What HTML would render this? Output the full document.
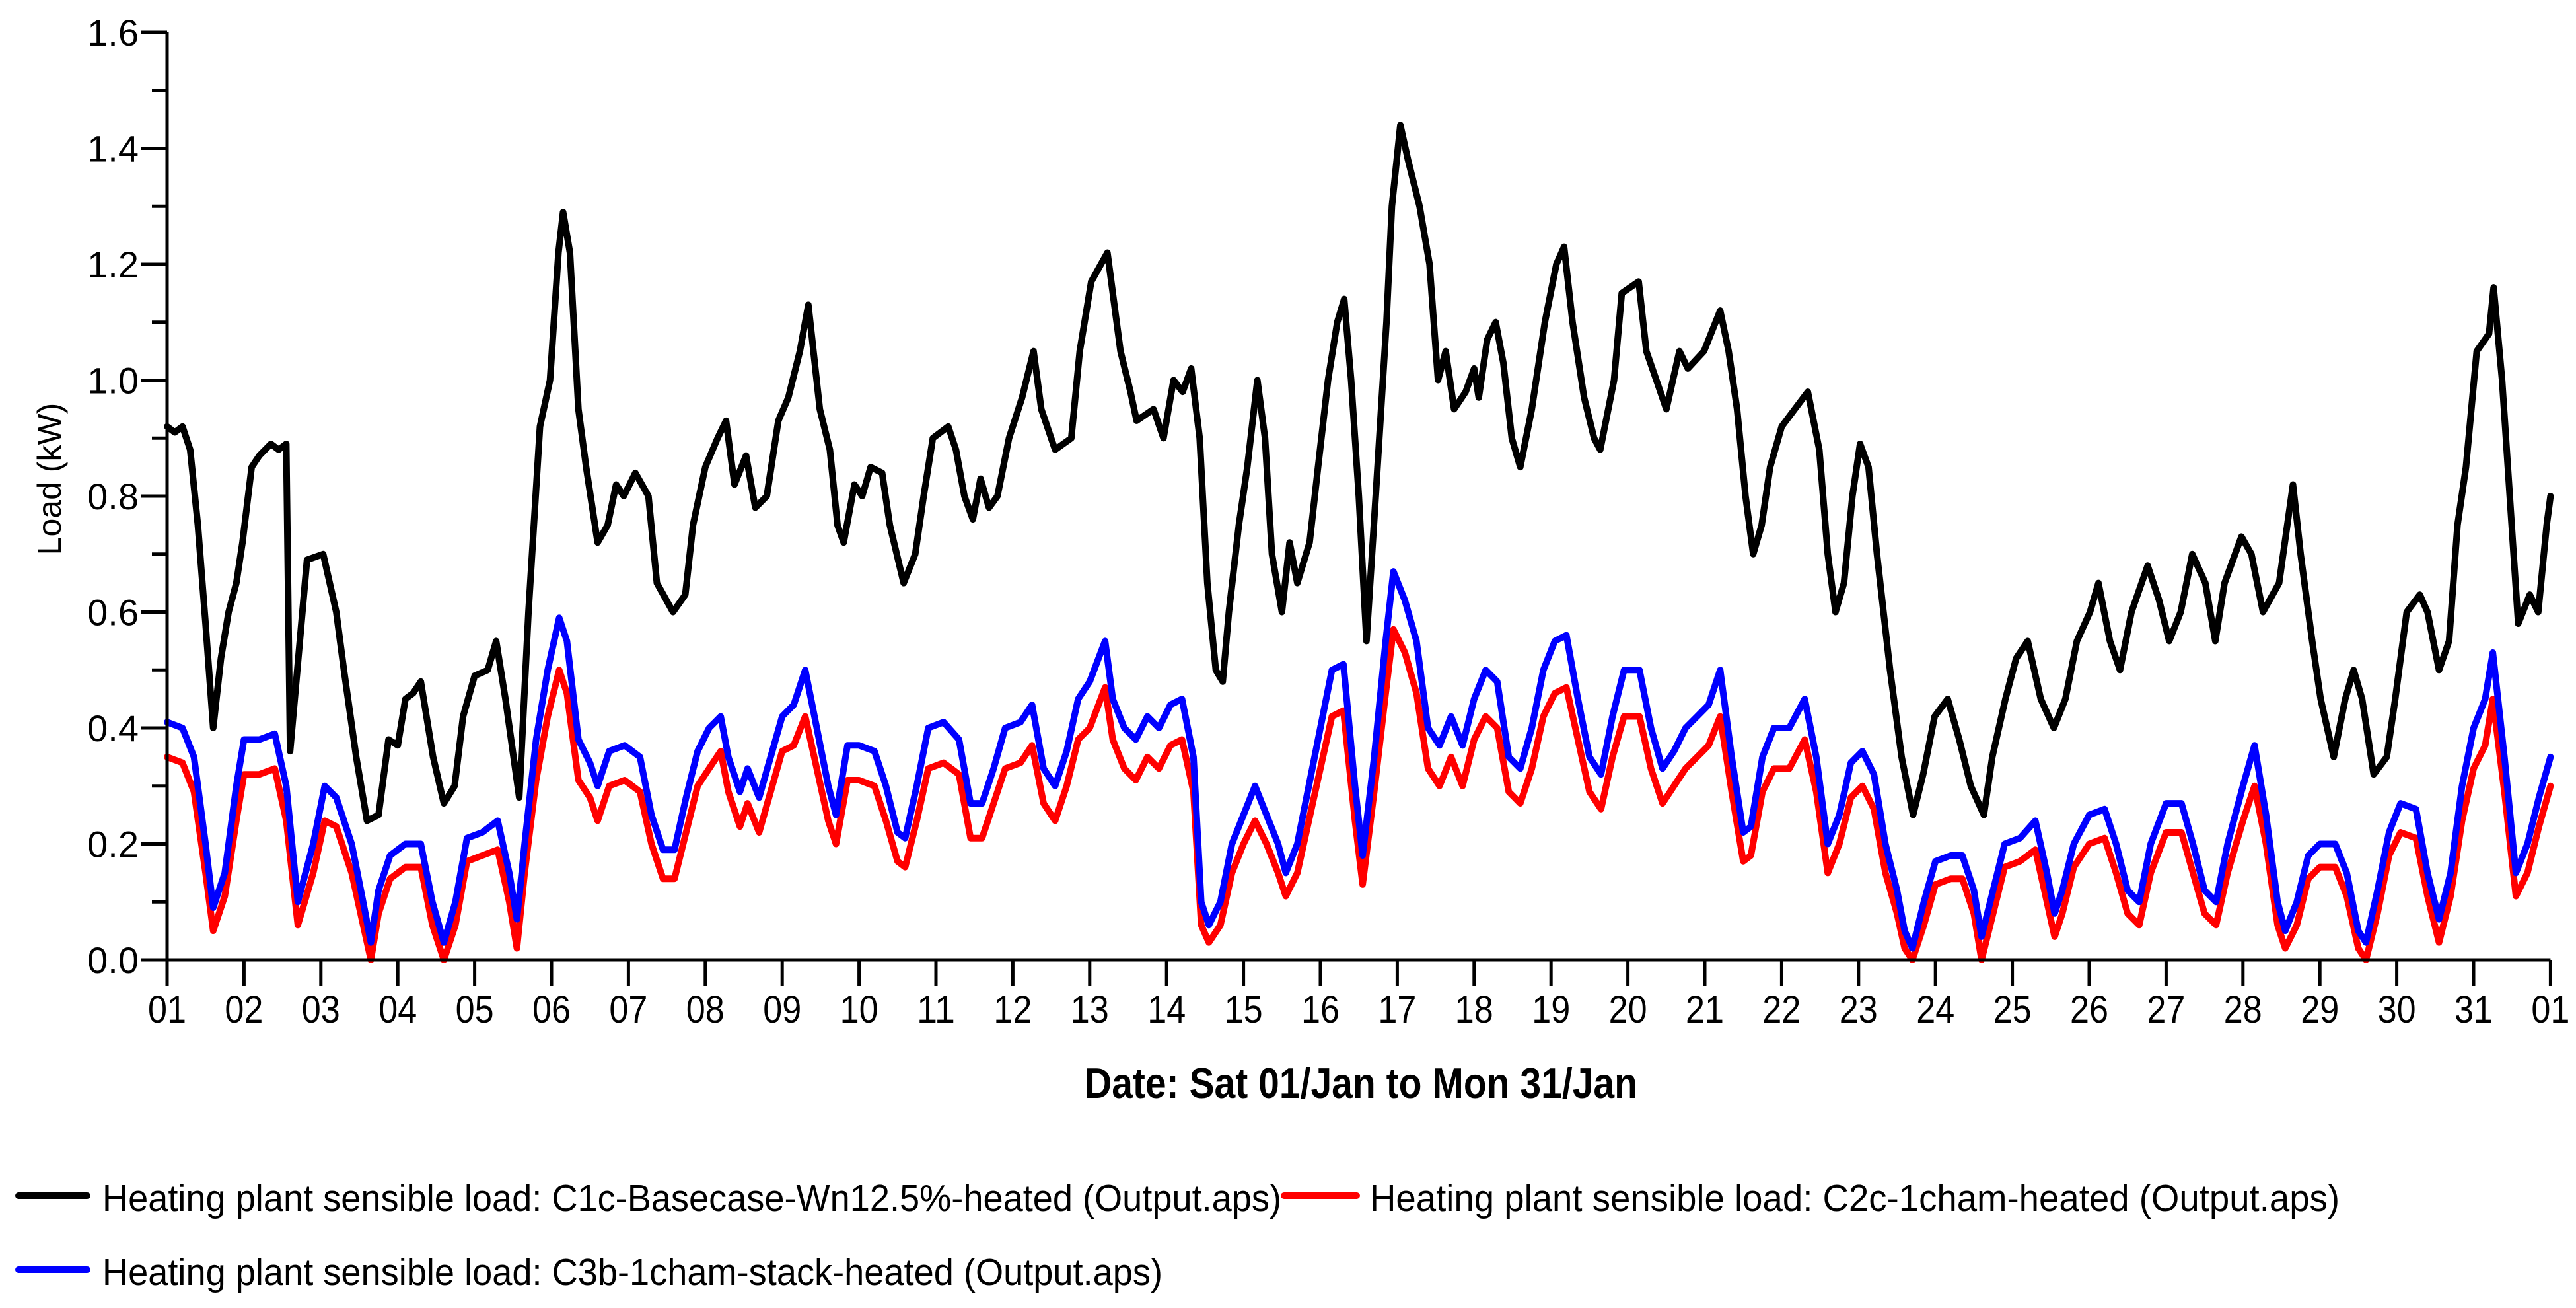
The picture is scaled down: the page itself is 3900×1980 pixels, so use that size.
<!DOCTYPE html>
<html><head><meta charset="utf-8"><style>
html,body{margin:0;padding:0;background:#fff;}
svg{display:block;font-family:"Liberation Sans",Arial,sans-serif;}
</style></head><body>
<svg id="chart" width="3900" height="1980" viewBox="0 0 3900 1980" xmlns="http://www.w3.org/2000/svg">
<rect width="3900" height="1980" fill="#fff"/>
<g id="series"></g>
<g id="axes"></g>
<text x="0" y="0" transform="translate(92,725) rotate(-90)" text-anchor="middle" font-size="50">Load (kW)</text>
<text x="1642" y="1662" font-size="65" font-weight="bold" textLength="837" lengthAdjust="spacingAndGlyphs">Date: Sat 01/Jan to Mon 31/Jan</text>
<g>
<g>
<line x1="28" y1="1810" x2="132" y2="1810" stroke="#000" stroke-width="10" stroke-linecap="round"/>
<text x="155" y="1833" font-size="57" textLength="1785" lengthAdjust="spacingAndGlyphs">Heating plant sensible load: C1c-Basecase-Wn12.5%-heated (Output.aps)</text>
</g>
<g>
<line x1="1944" y1="1810" x2="2054" y2="1810" stroke="#f00" stroke-width="10" stroke-linecap="round"/>
<text x="2074" y="1833" font-size="57" textLength="1468" lengthAdjust="spacingAndGlyphs">Heating plant sensible load: C2c-1cham-heated (Output.aps)</text>
</g>
<g>
<line x1="28" y1="1922" x2="132" y2="1922" stroke="#00f" stroke-width="10" stroke-linecap="round"/>
<text x="155" y="1945" font-size="57" textLength="1605" lengthAdjust="spacingAndGlyphs">Heating plant sensible load: C3b-1cham-stack-heated (Output.aps)</text>
</g>
</g>
</svg>
<script>
const yTicks = [0.0,0.2,0.4,0.6,0.8,1.0,1.2,1.4,1.6];
const xTickLabels = ["01","02","03","04","05","06","07","08","09","10","11","12","13","14","15","16","17","18","19","20","21","22","23","24","25","26","27","28","29","30","31","01"];
const tBlack = [0,0.1,0.2,0.3,0.4,0.5,0.6,0.7,0.8,0.9,0.98,1.1,1.2,1.35,1.45,1.55,1.6,1.82,2.03,2.2,2.3,2.46,2.6,2.75,2.88,3.0,3.1,3.2,3.3,3.46,3.6,3.74,3.85,4.0,4.17,4.28,4.4,4.58,4.7,4.85,4.98,5.09,5.15,5.24,5.35,5.45,5.6,5.73,5.84,5.94,6.09,6.26,6.37,6.58,6.74,6.84,7.0,7.16,7.27,7.38,7.53,7.65,7.8,7.95,8.08,8.23,8.34,8.49,8.62,8.72,8.8,8.94,9.04,9.15,9.3,9.4,9.58,9.73,9.84,9.96,10.16,10.26,10.37,10.48,10.58,10.69,10.8,10.95,11.12,11.27,11.37,11.55,11.76,11.87,12.02,12.23,12.4,12.53,12.61,12.83,12.96,13.09,13.21,13.32,13.43,13.53,13.64,13.73,13.81,13.94,14.05,14.18,14.28,14.37,14.5,14.6,14.7,14.86,14.97,15.1,15.22,15.31,15.4,15.5,15.6,15.72,15.86,15.93,16.04,16.14,16.29,16.42,16.53,16.63,16.74,16.89,17.0,17.06,17.17,17.28,17.38,17.49,17.6,17.75,17.92,18.07,18.17,18.28,18.43,18.56,18.64,18.82,18.92,19.14,19.24,19.37,19.5,19.67,19.78,19.99,20.2,20.31,20.42,20.53,20.63,20.74,20.85,21.0,21.17,21.34,21.49,21.6,21.7,21.81,21.92,22.02,22.13,22.24,22.41,22.56,22.71,22.84,22.99,23.16,23.31,23.46,23.63,23.74,23.91,24.05,24.2,24.37,24.54,24.69,24.84,25.01,25.12,25.27,25.4,25.55,25.76,25.91,26.04,26.19,26.34,26.51,26.64,26.76,26.98,27.11,27.26,27.47,27.65,27.75,27.9,28.01,28.18,28.33,28.44,28.55,28.7,28.87,28.98,29.13,29.3,29.4,29.55,29.68,29.79,29.9,30.04,30.2,30.26,30.37,30.47,30.58,30.73,30.84,30.95,31.0];
const vBlack = [0.92,0.91,0.92,0.88,0.75,0.58,0.40,0.52,0.6,0.65,0.72,0.85,0.87,0.89,0.88,0.89,0.36,0.69,0.7,0.6,0.5,0.35,0.24,0.25,0.38,0.37,0.45,0.46,0.48,0.35,0.27,0.3,0.42,0.49,0.5,0.55,0.45,0.28,0.6,0.92,1.0,1.22,1.29,1.22,0.95,0.85,0.72,0.75,0.82,0.8,0.84,0.8,0.65,0.6,0.63,0.75,0.85,0.9,0.93,0.82,0.87,0.78,0.8,0.93,0.97,1.05,1.13,0.95,0.88,0.75,0.72,0.82,0.8,0.85,0.84,0.75,0.65,0.7,0.8,0.9,0.92,0.88,0.8,0.76,0.83,0.78,0.8,0.9,0.97,1.05,0.95,0.88,0.9,1.05,1.17,1.22,1.05,0.98,0.93,0.95,0.9,1.0,0.98,1.02,0.9,0.65,0.5,0.48,0.6,0.75,0.85,1.0,0.9,0.7,0.6,0.72,0.65,0.72,0.85,1.0,1.1,1.14,1.0,0.8,0.55,0.8,1.1,1.3,1.44,1.38,1.3,1.2,1.0,1.05,0.95,0.98,1.02,0.97,1.07,1.1,1.03,0.9,0.85,0.95,1.1,1.2,1.23,1.1,0.97,0.9,0.88,1.0,1.15,1.17,1.05,1.0,0.95,1.05,1.02,1.05,1.12,1.05,0.95,0.8,0.7,0.75,0.85,0.92,0.95,0.98,0.88,0.7,0.6,0.65,0.8,0.89,0.85,0.7,0.5,0.35,0.25,0.32,0.42,0.45,0.38,0.3,0.25,0.35,0.45,0.52,0.55,0.45,0.4,0.45,0.55,0.6,0.65,0.55,0.5,0.6,0.68,0.62,0.55,0.6,0.7,0.65,0.55,0.65,0.73,0.7,0.6,0.65,0.82,0.7,0.55,0.45,0.35,0.45,0.5,0.45,0.32,0.35,0.45,0.6,0.63,0.6,0.5,0.55,0.75,0.85,1.05,1.08,1.16,1.0,0.8,0.58,0.63,0.6,0.75,0.8];
const tColor = [0,0.2,0.35,0.5,0.6,0.75,0.9,1.0,1.2,1.4,1.55,1.7,1.9,2.05,2.2,2.4,2.55,2.65,2.75,2.9,3.1,3.3,3.45,3.6,3.75,3.9,4.1,4.3,4.45,4.55,4.65,4.8,4.95,5.1,5.2,5.35,5.5,5.6,5.75,5.95,6.15,6.3,6.45,6.6,6.75,6.9,7.05,7.2,7.3,7.45,7.55,7.7,7.85,8.0,8.15,8.3,8.45,8.6,8.7,8.85,9.0,9.2,9.35,9.5,9.6,9.75,9.9,10.1,10.3,10.45,10.6,10.75,10.9,11.1,11.25,11.4,11.55,11.7,11.85,12.0,12.2,12.3,12.45,12.6,12.75,12.9,13.05,13.2,13.35,13.45,13.55,13.7,13.85,14.0,14.15,14.3,14.45,14.55,14.7,14.85,15.0,15.15,15.3,15.45,15.55,15.7,15.85,15.95,16.1,16.25,16.4,16.55,16.7,16.85,17.0,17.15,17.3,17.45,17.6,17.75,17.9,18.05,18.2,18.35,18.5,18.65,18.8,18.95,19.15,19.3,19.45,19.6,19.75,19.9,20.05,20.2,20.35,20.5,20.6,20.75,20.9,21.1,21.3,21.45,21.6,21.75,21.9,22.05,22.2,22.35,22.5,22.6,22.7,22.85,23.0,23.2,23.35,23.5,23.6,23.75,23.9,24.1,24.3,24.45,24.55,24.65,24.8,25.0,25.2,25.35,25.5,25.65,25.8,26.0,26.2,26.35,26.5,26.65,26.8,27.0,27.15,27.3,27.45,27.55,27.7,27.85,28.0,28.2,28.35,28.5,28.6,28.75,28.9,29.05,29.25,29.4,29.55,29.7,29.85,30.0,30.15,30.25,30.4,30.55,30.7,30.85,31.0];
const vBlue = [0.41,0.4,0.35,0.2,0.09,0.15,0.3,0.38,0.38,0.39,0.3,0.1,0.2,0.3,0.28,0.2,0.1,0.03,0.12,0.18,0.2,0.2,0.1,0.03,0.1,0.21,0.22,0.24,0.15,0.07,0.2,0.38,0.5,0.59,0.55,0.38,0.34,0.3,0.36,0.37,0.35,0.25,0.19,0.19,0.28,0.36,0.4,0.42,0.35,0.29,0.33,0.28,0.35,0.42,0.44,0.5,0.4,0.3,0.25,0.37,0.37,0.36,0.3,0.22,0.21,0.3,0.4,0.41,0.38,0.27,0.27,0.33,0.4,0.41,0.44,0.33,0.3,0.36,0.45,0.48,0.55,0.45,0.4,0.38,0.42,0.4,0.44,0.45,0.35,0.1,0.06,0.1,0.2,0.25,0.3,0.25,0.2,0.15,0.2,0.3,0.4,0.5,0.51,0.3,0.18,0.35,0.55,0.67,0.62,0.55,0.4,0.37,0.42,0.37,0.45,0.5,0.48,0.35,0.33,0.4,0.5,0.55,0.56,0.45,0.35,0.32,0.42,0.5,0.5,0.4,0.33,0.36,0.4,0.42,0.44,0.5,0.35,0.22,0.23,0.35,0.4,0.4,0.45,0.35,0.2,0.25,0.34,0.36,0.32,0.2,0.12,0.05,0.02,0.1,0.17,0.18,0.18,0.12,0.04,0.12,0.2,0.21,0.24,0.15,0.08,0.12,0.2,0.25,0.26,0.2,0.12,0.1,0.2,0.27,0.27,0.2,0.12,0.1,0.2,0.3,0.37,0.25,0.1,0.05,0.1,0.18,0.2,0.2,0.15,0.05,0.03,0.12,0.22,0.27,0.26,0.15,0.07,0.15,0.3,0.4,0.45,0.53,0.35,0.15,0.2,0.28,0.35];
const vRed = [0.35,0.34,0.29,0.15,0.05,0.11,0.24,0.32,0.32,0.33,0.24,0.06,0.15,0.24,0.23,0.15,0.06,0.0,0.08,0.14,0.16,0.16,0.06,0.0,0.06,0.17,0.18,0.19,0.1,0.02,0.15,0.31,0.42,0.5,0.46,0.31,0.28,0.24,0.3,0.31,0.29,0.2,0.14,0.14,0.22,0.3,0.33,0.36,0.29,0.23,0.27,0.22,0.29,0.36,0.37,0.42,0.33,0.24,0.2,0.31,0.31,0.3,0.24,0.17,0.16,0.24,0.33,0.34,0.32,0.21,0.21,0.27,0.33,0.34,0.37,0.27,0.24,0.3,0.38,0.4,0.47,0.38,0.33,0.31,0.35,0.33,0.37,0.38,0.29,0.06,0.03,0.06,0.15,0.2,0.24,0.2,0.15,0.11,0.15,0.24,0.33,0.42,0.43,0.24,0.13,0.29,0.46,0.57,0.53,0.46,0.33,0.3,0.35,0.3,0.38,0.42,0.4,0.29,0.27,0.33,0.42,0.46,0.47,0.38,0.29,0.26,0.35,0.42,0.42,0.33,0.27,0.3,0.33,0.35,0.37,0.42,0.29,0.17,0.18,0.29,0.33,0.33,0.38,0.29,0.15,0.2,0.28,0.3,0.26,0.15,0.08,0.02,0.0,0.06,0.13,0.14,0.14,0.08,0.0,0.08,0.16,0.17,0.19,0.1,0.04,0.08,0.16,0.2,0.21,0.15,0.08,0.06,0.15,0.22,0.22,0.15,0.08,0.06,0.15,0.24,0.3,0.2,0.06,0.02,0.06,0.14,0.16,0.16,0.11,0.02,0.0,0.08,0.18,0.22,0.21,0.11,0.03,0.11,0.24,0.33,0.37,0.45,0.29,0.11,0.15,0.23,0.3];

const NS = "http://www.w3.org/2000/svg";
const X0 = 253, DAYW = 116.4, Y0 = 1453, YS = 877.5;
function xScale(t){ return X0 + t*DAYW; }
function yScale(v){ return Y0 - v*YS; }
const series = document.getElementById('series');
const axes = document.getElementById('axes');

function drawLine(ts, vs, color, name){
  const p = document.createElementNS(NS,'path');
  let d = '';
  for(let i=0;i<ts.length;i++){ d += (i?'L':'M') + xScale(ts[i]).toFixed(1) + ',' + yScale(vs[i]).toFixed(1); }
  p.setAttribute('d', d);
  p.setAttribute('fill','none');
  p.setAttribute('stroke', color);
  p.setAttribute('stroke-width','10');
  p.setAttribute('stroke-linejoin','round');
  p.setAttribute('stroke-linecap','round');
  
  
  series.appendChild(p);
}
drawLine(tColor, vRed, '#f00', 'series-c2c-line');
drawLine(tColor, vBlue, '#00f', 'series-c3b-line');
drawLine(tBlack, vBlack, '#000', 'series-c1c-line');

function mk(tag, attrs){ const e = document.createElementNS(NS, tag); for (const k in attrs) e.setAttribute(k, attrs[k]); axes.appendChild(e); return e; }
const ya = mk('line',{x1:X0,y1:yScale(1.6),x2:X0,y2:Y0,stroke:'#000','stroke-width':5});


const xa = mk('line',{x1:X0-39,y1:Y0,x2:xScale(31),y2:Y0,stroke:'#000','stroke-width':5});


yTicks.forEach(v=>{
  const tk = mk('line',{x1:X0-39,y1:yScale(v),x2:X0,y2:yScale(v),stroke:'#000','stroke-width':5});
  
  
  const lb = mk('text',{x:X0-43,y:yScale(v)+20,'text-anchor':'end','font-size':56});
  lb.textContent = v.toFixed(1);
  
  
  if (v < 1.6) {
    const mn = mk('line',{x1:X0-23,y1:yScale(v+0.1),x2:X0,y2:yScale(v+0.1),stroke:'#000','stroke-width':5});
    
    
  }
});
xTickLabels.forEach((s,i)=>{
  const tk = mk('line',{x1:xScale(i),y1:Y0,x2:xScale(i),y2:Y0+40,stroke:'#000','stroke-width':5});
  
  
  const lb = mk('text',{x:xScale(i),y:1548,'text-anchor':'middle','font-size':58,textLength:58,lengthAdjust:'spacingAndGlyphs'});
  lb.textContent = s;
  
  
});
</script>
</body></html>
